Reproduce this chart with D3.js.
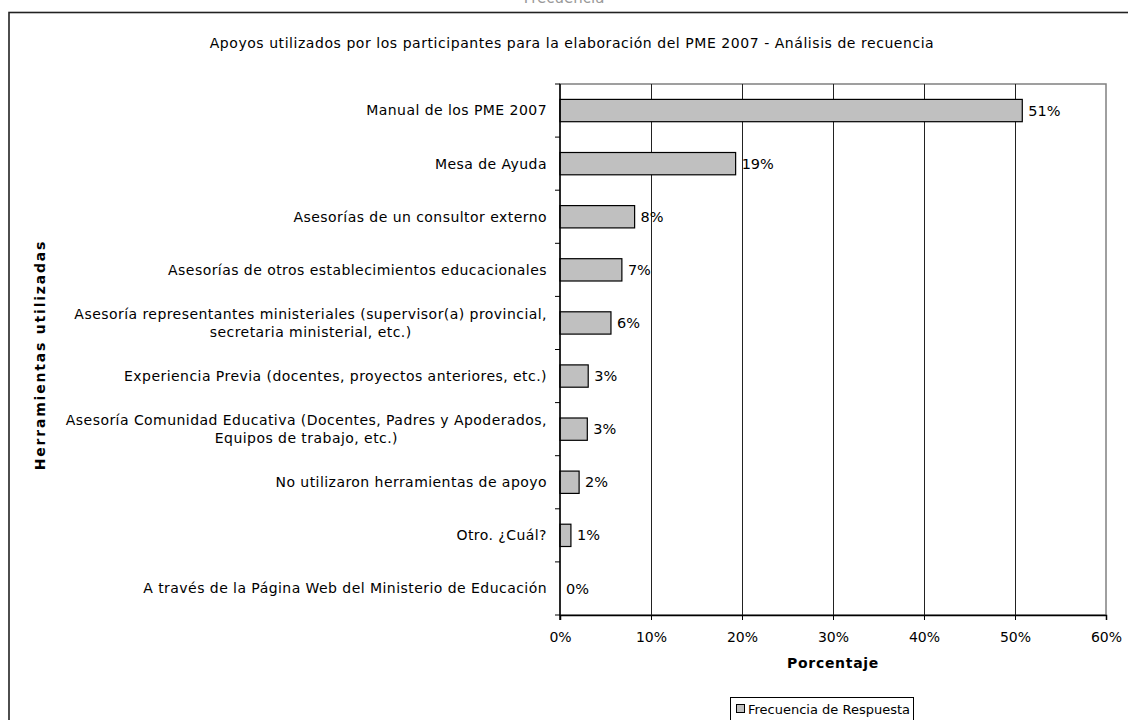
<!DOCTYPE html>
<html><head><meta charset="utf-8">
<script src="https://cdn.jsdelivr.net/npm/d3@7"></script>
<style>
body{margin:0;background:#fff;}
svg{display:block;font-family:"DejaVu Sans",Verdana,sans-serif;}
</style></head>
<body><svg id="chart" width="1128" height="720"></svg>
<script>
const categories = [
  ["Manual de los PME 2007"],
  ["Mesa de Ayuda"],
  ["Asesorías de un consultor externo"],
  ["Asesorías de otros establecimientos educacionales"],
  ["Asesoría representantes ministeriales (supervisor(a) provincial,", "secretaria ministerial, etc.)"],
  ["Experiencia Previa (docentes, proyectos anteriores, etc.)"],
  ["Asesoría Comunidad Educativa (Docentes, Padres y Apoderados,", "Equipos de trabajo, etc.)"],
  ["No utilizaron herramientas de apoyo"],
  ["Otro. ¿Cuál?"],
  ["A través de la Página Web del Ministerio de Educación"]
];
const values = [0.508, 0.193, 0.082, 0.068, 0.056, 0.031, 0.030, 0.021, 0.012, 0.0];
const xTicks = [0, 0.1, 0.2, 0.3, 0.4, 0.5, 0.6];
const seriesName = "Frecuencia de Respuesta";
const chartTitle = "Apoyos utilizados por los participantes para la elaboración del PME 2007 - Análisis de recuencia";
const topTitle = "Frecuencia";
const xTitle = "Porcentaje";
const yTitle = "Herramientas utilizadas";

const svg = d3.select("#chart");
const L = 560, R = 1106, T = 84, B = 615;

// top cut-off title
svg.append("text").attr("x", 564).attr("y", 3).attr("text-anchor", "middle")
  .attr("font-size", 15).attr("fill", "#999").text(topTitle);

// outer frame
svg.append("rect").attr("x", 9).attr("y", 12.5).attr("width", 1140).attr("height", 730)
  .attr("fill", "none").attr("stroke", "#222").attr("stroke-width", 1.6);

svg.append("text").attr("x", 572).attr("y", 48).attr("text-anchor", "middle")
  .attr("font-size", 14).attr("letter-spacing", 0.55).attr("fill", "#000").text(chartTitle);

const x = d3.scaleLinear().domain([0, 0.6]).range([L, R]);
const idx = d3.range(categories.length);
const y = d3.scaleBand().domain(idx).range([T, B]).paddingInner(0.58).paddingOuter(0.29);

// plot border (top/right gray)
svg.append("rect").attr("x", L).attr("y", T).attr("width", R - L).attr("height", B - T)
  .attr("fill", "none").attr("stroke", "#808080").attr("stroke-width", 1.5);

// gridlines
svg.append("g").selectAll("line").data(xTicks.slice(1, -1)).join("line")
  .attr("x1", d => Math.round(x(d)) + 0.5).attr("x2", d => Math.round(x(d)) + 0.5)
  .attr("y1", T).attr("y2", B).attr("stroke", "#222").attr("stroke-width", 1);

// bars
svg.append("g").selectAll("rect").data(values).join("rect")
  .attr("x", x(0)).attr("y", (d, i) => y(i)).attr("width", d => x(d) - x(0))
  .attr("height", y.bandwidth()).attr("fill", "#c0c0c0").attr("stroke", "#000").attr("stroke-width", 1.2)
  .attr("display", d => d > 0 ? null : "none");

// value labels
svg.append("g").selectAll("text").data(values).join("text")
  .attr("x", d => x(d) + 6).attr("y", (d, i) => y(i) + y.bandwidth() / 2)
  .attr("dy", "0.35em").attr("font-size", 14.5).text(d => d3.format(".0%")(d));

// x axis
const xAxis = svg.append("g").attr("transform", `translate(0,${B})`)
  .call(d3.axisBottom(x).tickValues(xTicks).tickFormat(d3.format(".0%")).tickSize(5).tickPadding(12));
xAxis.select(".domain").attr("stroke", "#000").attr("stroke-width", 1.5);
xAxis.selectAll("text").attr("font-size", 14).attr("font-family", "DejaVu Sans").attr("fill", "#000");

// y axis (ticks at band boundaries)
const yBounds = d3.range(categories.length + 1).map(i => T + i * (B - T) / categories.length);
svg.append("line").attr("x1", L).attr("x2", L).attr("y1", T).attr("y2", B + 5).attr("stroke", "#000").attr("stroke-width", 1.5);
svg.append("g").selectAll("line").data(yBounds).join("line")
  .attr("x1", L - 5).attr("x2", L).attr("y1", d => d).attr("y2", d => d).attr("stroke", "#000");

// category labels
const lab = svg.append("g");
categories.forEach((lines, i) => {
  const cy = y(i) + y.bandwidth() / 2;
  const lh = 18;
  const g = lab.append("g");
  const texts = lines.map((t, j) => g.append("text")
    .attr("y", cy + (j - (lines.length - 1) / 2) * lh).attr("dy", "0.35em")
    .attr("font-size", 14).attr("letter-spacing", 0.45).text(t));
  const maxW = d3.max(texts, t => t.node().getComputedTextLength());
  const cx = 547 - maxW / 2;
  texts.forEach(t => t.attr("x", cx).attr("text-anchor", "middle"));
});

// axis titles
svg.append("text").attr("x", 833).attr("y", 668).attr("text-anchor", "middle")
  .attr("font-size", 14).attr("letter-spacing", 0.7).attr("font-weight", "bold").text(xTitle);
svg.append("text").attr("transform", "translate(45,355) rotate(-90)").attr("text-anchor", "middle")
  .attr("font-size", 14).attr("letter-spacing", 1.8).attr("font-weight", "bold").text(yTitle);

// legend
const lg = svg.append("g");
lg.append("rect").attr("x", 730.5).attr("y", 697.5).attr("width", 183).attr("height", 30)
  .attr("fill", "#fff").attr("stroke", "#000");
lg.append("rect").attr("x", 736.5).attr("y", 704.5).attr("width", 8).attr("height", 8)
  .attr("fill", "#c0c0c0").attr("stroke", "#000");
lg.append("text").attr("x", 748).attr("y", 709).attr("dy", "0.35em").attr("font-size", 13).text(seriesName);
</script></body></html>
